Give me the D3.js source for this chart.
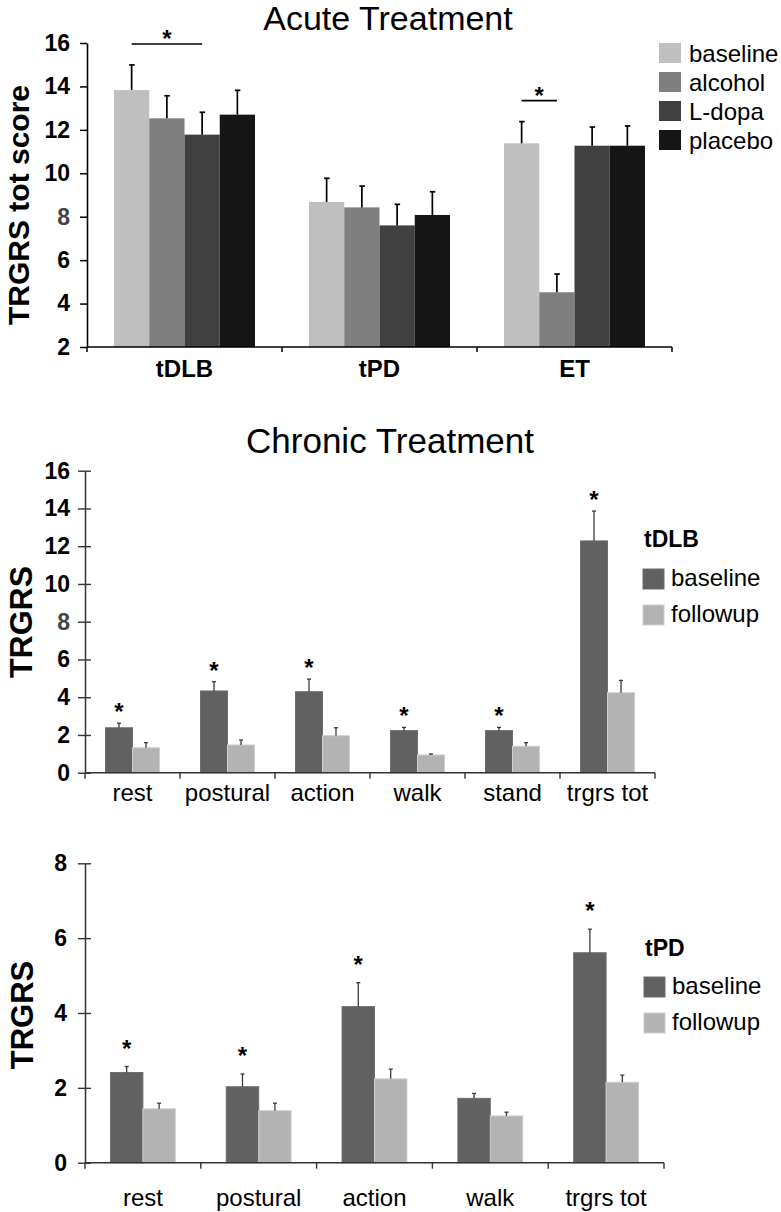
<!DOCTYPE html>
<html><head><meta charset="utf-8">
<script src="https://cdn.jsdelivr.net/npm/d3@7"></script>
<style>
body{margin:0;background:#fff}
svg{display:block;font-family:"Liberation Sans",Arial,Helvetica,sans-serif}
</style>
</head><body>
<svg id="c" width="781" height="1212"></svg>
<script>
// ---------------- Acute treatment ----------------
const acuteGroups = ["tDLB", "tPD", "ET"];
const acuteSeries = ["baseline", "alcohol", "L-dopa", "placebo"];
const acuteBaseline = [13.83, 8.68, 11.38];
const acuteAlcohol  = [12.53, 8.43, 4.52];
const acuteLdopa    = [11.78, 7.60, 11.27];
const acutePlacebo  = [12.70, 8.08, 11.27];
const acuteBaselineErr = [1.16, 1.09, 1.00];
const acuteAlcoholErr  = [1.04, 0.98, 0.84];
const acuteLdopaErr    = [1.03, 0.97, 0.86];
const acutePlaceboErr  = [1.12, 1.07, 0.91];
const acuteTicks = [2, 4, 6, 8, 10, 12, 14, 16];
const acuteSig = [["tDLB", "baseline", "L-dopa"], ["ET", "baseline", "alcohol"]];

// ---------------- Chronic treatment: tDLB ----------------
const dlbCats = ["rest", "postural", "action", "walk", "stand", "trgrs tot"];
const dlbBaseline    = [2.38, 4.33, 4.29, 2.23, 2.23, 12.28];
const dlbBaselineErr = [0.24, 0.49, 0.67, 0.17, 0.17, 1.58];
const dlbFollowup    = [1.32, 1.47, 1.96, 0.94, 1.40, 4.24];
const dlbFollowupErr = [0.27, 0.26, 0.42, 0.05, 0.19, 0.65];
const dlbStars = [true, true, true, true, true, true];
const dlbTicks = [0, 2, 4, 6, 8, 10, 12, 14, 16];

// ---------------- Chronic treatment: tPD ----------------
const pdCats = ["rest", "postural", "action", "walk", "trgrs tot"];
const pdBaseline    = [2.41, 2.03, 4.17, 1.72, 5.61];
const pdBaselineErr = [0.16, 0.34, 0.64, 0.13, 0.63];
const pdFollowup    = [1.44, 1.39, 2.24, 1.25, 2.15];
const pdFollowupErr = [0.15, 0.20, 0.26, 0.10, 0.19];
const pdStars = [true, true, true, false, true];
const pdTicks = [0, 2, 4, 6, 8];

const chronicSeries = ["baseline", "followup"];

const svg = d3.select("#c");
svg.append("rect").attr("width", 781).attr("height", 1212).attr("fill", "#fff");

// ================= Acute chart =================
(function () {
  const g = svg.append("g");
  const y = d3.scaleLinear().domain([2, 16]).range([347, 43]);
  const x0 = d3.scaleBand().domain(acuteGroups).range([87, 672]).paddingInner(0.277).paddingOuter(0.1385);
  const x1 = d3.scaleBand().domain(acuteSeries).range([0, x0.bandwidth()]);
  const color = d3.scaleOrdinal().domain(acuteSeries).range(["#bfbfbf", "#7f7f7f", "#404040", "#151515"]);
  const vals = { "baseline": acuteBaseline, "alcohol": acuteAlcohol, "L-dopa": acuteLdopa, "placebo": acutePlacebo };
  const errs = { "baseline": acuteBaselineErr, "alcohol": acuteAlcoholErr, "L-dopa": acuteLdopaErr, "placebo": acutePlaceboErr };
  const rows = [];
  acuteGroups.forEach((grp, i) => acuteSeries.forEach(s => rows.push({ grp, s, v: vals[s][i], e: errs[s][i] })));

  g.append("text").attr("x", 388).attr("y", 30).attr("text-anchor", "middle")
    .attr("font-size", 34).text("Acute Treatment");

  g.selectAll("rect.bar").data(rows).join("rect").attr("class", "bar")
    .attr("x", d => x0(d.grp) + x1(d.s)).attr("width", x1.bandwidth())
    .attr("y", d => y(d.v)).attr("height", d => y(2) - y(d.v))
    .attr("fill", d => color(d.s));

  const eb = g.append("g").attr("stroke", "#000").attr("stroke-width", 1.7);
  rows.forEach(d => {
    const cx = x0(d.grp) + x1(d.s) + x1.bandwidth() / 2;
    eb.append("line").attr("x1", cx).attr("x2", cx).attr("y1", y(d.v)).attr("y2", y(d.v + d.e));
    eb.append("line").attr("x1", cx - 2.5).attr("x2", cx + 3).attr("y1", y(d.v + d.e)).attr("y2", y(d.v + d.e));
  });

  // y axis
  const ya = g.append("g").attr("transform", "translate(87,0)")
    .call(d3.axisLeft(y).tickValues(acuteTicks).tickSize(7).tickSizeOuter(0).tickPadding(10));
  ya.select(".domain").attr("stroke", "#000").attr("stroke-width", 1.6);
  ya.selectAll(".tick line").attr("stroke", "#000").attr("stroke-width", 1.5);
  ya.selectAll(".tick text").attr("font-size", 23).attr("font-weight", "bold")
    .attr("fill", d => d === 8 ? "#444" : "#000")
    .attr("font-family", "Liberation Sans, Arial, sans-serif");

  // x axis
  const y0 = y(2);
  g.append("line").attr("x1", 87).attr("x2", 672).attr("y1", y0).attr("y2", y0)
    .attr("stroke", "#000").attr("stroke-width", 1.6);
  const bounds = acuteGroups.map(grp => x0(grp) - x0.step() * x0.paddingInner() / 2)
    .concat([x0.range()[1]]);
  g.selectAll("line.xt").data(bounds).join("line").attr("class", "xt")
    .attr("x1", d => d).attr("x2", d => d).attr("y1", y0).attr("y2", y0 + 5)
    .attr("stroke", "#000").attr("stroke-width", 1.5);
  g.selectAll("text.cat").data(acuteGroups).join("text").attr("class", "cat")
    .attr("x", d => x0(d) + x0.bandwidth() / 2).attr("y", 377)
    .attr("text-anchor", "middle").attr("font-size", 24).attr("font-weight", "bold").text(d => d);

  // y title
  g.append("text").attr("transform", "translate(29,205) rotate(-90)").attr("text-anchor", "middle")
    .attr("font-size", 30).attr("font-weight", "bold").text("TRGRS tot score");

  // significance
  acuteSig.forEach(([grp, a, b]) => {
    const ia = acuteSeries.indexOf(a), ib = acuteSeries.indexOf(b);
    const span = acuteSeries.slice(ia, ib + 1);
    const gi = acuteGroups.indexOf(grp);
    const top = d3.min(span, s => y(vals[s][gi] + errs[s][gi]));
    const xa = x0(grp) + x1(a) + x1.bandwidth() / 2;
    const xb = x0(grp) + x1(b) + x1.bandwidth() / 2;
    const ly = top - 21;
    g.append("line").attr("x1", xa).attr("x2", xb).attr("y1", ly).attr("y2", ly)
      .attr("stroke", "#000").attr("stroke-width", 1.6);
    g.append("text").attr("x", (xa + xb) / 2).attr("y", ly + 3).attr("text-anchor", "middle")
      .attr("font-size", 24).attr("font-weight", "bold").text("*");
  });

  // legend
  const lg = g.append("g");
  acuteSeries.forEach((s, i) => {
    lg.append("rect").attr("x", 659).attr("y", 43 + i * 29).attr("width", 22).attr("height", 20).attr("fill", color(s));
    lg.append("text").attr("x", 689).attr("y", 62 + i * 29).attr("font-size", 24).text(s);
  });
})();

// ================= Chronic charts =================
function chronic(o) {
  const g = svg.append("g");
  const y = d3.scaleLinear().domain(o.yDomain).range(o.yRange);
  const x0 = d3.scaleBand().domain(o.cats).range(o.xRange).paddingInner(o.pad).paddingOuter(o.pad / 2);
  const x1 = d3.scaleBand().domain(chronicSeries).range([0, x0.bandwidth()]);
  const color = d3.scaleOrdinal().domain(chronicSeries).range(["#616161", "#b3b3b3"]);
  const rows = [];
  o.cats.forEach((c, i) => {
    rows.push({ c, s: "baseline", v: o.base[i], e: o.baseErr[i], star: o.stars[i] });
    rows.push({ c, s: "followup", v: o.fol[i], e: o.folErr[i], star: false });
  });
  const yb = y(o.yDomain[0]);

  g.selectAll("rect.bar").data(rows).join("rect").attr("class", "bar")
    .attr("x", d => x0(d.c) + x1(d.s)).attr("width", x1.bandwidth())
    .attr("y", d => y(d.v)).attr("height", d => yb - y(d.v))
    .attr("fill", d => color(d.s))
    .attr("stroke", d => d.s === "baseline" ? "#6e6e6e" : "#cfcfcf").attr("stroke-width", 1);

  const eb = g.append("g").attr("stroke", "#3a3a3a").attr("stroke-width", 1.3);
  rows.forEach(d => {
    const cx = x0(d.c) + x1(d.s) + x1.bandwidth() / 2;
    eb.append("line").attr("x1", cx).attr("x2", cx).attr("y1", y(d.v)).attr("y2", y(d.v + d.e));
    eb.append("line").attr("x1", cx - 2).attr("x2", cx + 2).attr("y1", y(d.v + d.e)).attr("y2", y(d.v + d.e));
    if (d.star) {
      g.append("text").attr("x", cx).attr("y", y(d.v + d.e) - o.starOff + 13)
        .attr("text-anchor", "middle").attr("font-size", 24).attr("font-weight", "bold").text("*");
    }
  });

  const ya = g.append("g").attr("transform", `translate(${o.xRange[0]},0)`)
    .call(d3.axisLeft(y).tickValues(o.ticks).tickSize(7).tickSizeOuter(0).tickPadding(o.tickPad));
  ya.select(".domain").attr("stroke", "#333").attr("stroke-width", 1.5);
  ya.selectAll(".tick line").attr("x1", 6).attr("stroke", "#333").attr("stroke-width", 1.4);
  ya.selectAll(".tick text").attr("font-size", 23).attr("font-weight", "bold")
    .attr("fill", d => (o.grayTick === d ? "#444" : "#000"))
    .attr("font-family", "Liberation Sans, Arial, sans-serif");

  g.append("line").attr("x1", o.xRange[0]).attr("x2", o.xRange[1]).attr("y1", yb).attr("y2", yb)
    .attr("stroke", "#333").attr("stroke-width", 1.5);
  const bounds = o.cats.map(c => x0(c) - x0.step() * x0.paddingInner() / 2).concat([x0.range()[1]]);
  g.selectAll("line.xt").data(bounds).join("line").attr("class", "xt")
    .attr("x1", d => d).attr("x2", d => d).attr("y1", yb).attr("y2", yb + 6)
    .attr("stroke", "#333").attr("stroke-width", 1.4);
  g.selectAll("text.cat").data(o.cats).join("text").attr("class", "cat")
    .attr("x", d => x0(d) + x0.bandwidth() / 2).attr("y", o.labelY)
    .attr("text-anchor", "middle").attr("font-size", 24).text(d => d);

  g.append("text").attr("transform", `translate(${o.titleX},${o.titleY}) rotate(-90)`).attr("text-anchor", "middle")
    .attr("font-size", o.titleSize).attr("font-weight", "bold").text("TRGRS");

  g.append("text").attr("x", o.legX).attr("y", o.legTitleY).attr("font-size", 23).attr("font-weight", "bold").text(o.legTitle);
  chronicSeries.forEach((s, i) => {
    g.append("rect").attr("x", o.legX - 1).attr("y", o.legBoxY + i * 36).attr("width", 21).attr("height", 20)
      .attr("fill", color(s)).attr("stroke", s === "baseline" ? "#6e6e6e" : "#cfcfcf");
    g.append("text").attr("x", o.legX + 27).attr("y", o.legBoxY + 17 + i * 36).attr("font-size", 24).text(s);
  });
}

svg.append("text").attr("x", 390).attr("y", 453).attr("text-anchor", "middle")
  .attr("font-size", 35).text("Chronic Treatment");

chronic({
  cats: dlbCats, base: dlbBaseline, baseErr: dlbBaselineErr, fol: dlbFollowup, folErr: dlbFollowupErr,
  stars: dlbStars, ticks: dlbTicks, yDomain: [0, 16], yRange: [772.7, 470.7], xRange: [85, 655], pad: 0.432,
  tickPad: 8, starOff: 16, labelY: 801, titleX: 32, titleY: 622, titleSize: 32, grayTick: 8,
  legTitle: "tDLB", legX: 644, legTitleY: 547, legBoxY: 569
});

chronic({
  cats: pdCats, base: pdBaseline, baseErr: pdBaselineErr, fol: pdFollowup, folErr: pdFollowupErr,
  stars: pdStars, ticks: pdTicks, yDomain: [0, 8], yRange: [1162.7, 863.3], xRange: [85, 664], pad: 0.44,
  tickPad: 11, starOff: 23, labelY: 1206, titleX: 33, titleY: 1015, titleSize: 31, grayTick: null,
  legTitle: "tPD", legX: 645, legTitleY: 956, legBoxY: 977
});
</script>
</body></html>
